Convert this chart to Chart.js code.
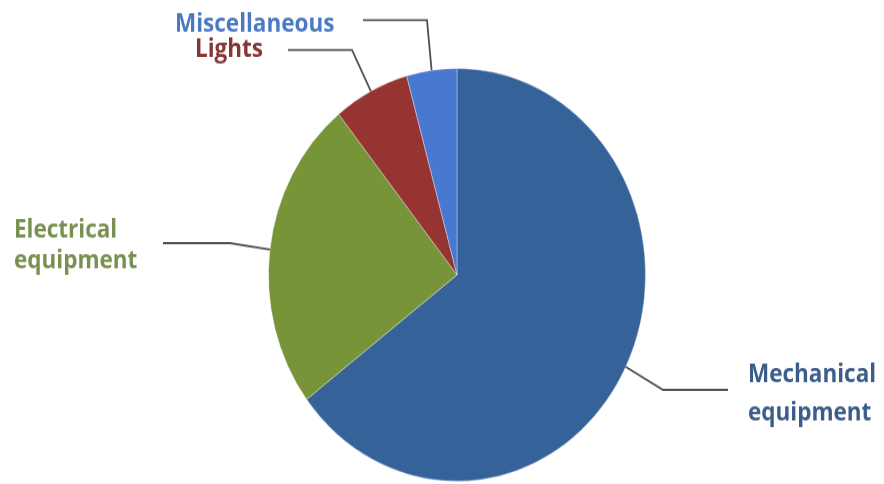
<!DOCTYPE html>
<html>
<head>
<meta charset="utf-8">
<script src="https://cdn.jsdelivr.net/npm/chart.js@4/dist/chart.umd.min.js"></script>
<style>
  html, body { margin: 0; padding: 0; background: #fff; }
  body { width: 884px; height: 484px; overflow: hidden; }
  /* the pie is drawn slightly taller than wide */
  #wrap { width: 884px; height: 442px; transform: scaleY(1.095); transform-origin: 0 0; }
</style>
</head>
<body>
<div id="wrap"><canvas id="pie" width="884" height="442"></canvas></div>
<script>
const categories = ['Mechanical equipment', 'Electrical equipment', 'Lights', 'Miscellaneous']
const shares = [64.7, 24.5, 6.5, 4.3]
const sliceColors = ['#36629a', '#779439', '#963432', '#4878d0']
const textColors = ['#3b5d89', '#789150', '#843634', '#4a79c4']

// label text lines, where the text block starts and where the leader line bends
const labelLayout = [
  { lines: ['Mechanical', 'equipment'], x: 748, y: 349, lineH: 34.5, from: [728, 356], bend: [663, 356] },
  { lines: ['Electrical', 'equipment'], x: 14, y: 217, lineH: 27.5, from: [163, 222], bend: [230, 222] },
  { lines: ['Lights'], x: 195, y: 52, lineH: 0, from: [288, 45.7], bend: [352, 45.7] },
  { lines: ['Miscellaneous'], x: 175, y: 28.5, lineH: 0, from: [363, 18.3], bend: [427, 18.3] }
]

const leaderLabels = {
  id: 'leaderLabels',
  afterDatasetsDraw(chart) {
    const ctx = chart.ctx
    const arcs = chart.getDatasetMeta(0).data
    ctx.save()
    arcs.forEach((arc, i) => {
      const p = arc.getProps(['x', 'y', 'startAngle', 'endAngle', 'outerRadius'], true)
      const mid = (p.startAngle + p.endAngle) / 2
      const ax = p.x + Math.cos(mid) * p.outerRadius
      const ay = p.y + Math.sin(mid) * p.outerRadius
      const l = labelLayout[i]
      ctx.strokeStyle = '#505050'
      ctx.lineWidth = 1.8
      ctx.beginPath()
      ctx.moveTo(l.from[0], l.from[1])
      ctx.lineTo(l.bend[0], l.bend[1])
      ctx.lineTo(ax, ay)
      ctx.stroke()
      ctx.fillStyle = textColors[i]
      ctx.font = 'bold 22.5px "Open Sans", "Noto Sans", sans-serif'
      ctx.textAlign = 'left'
      ctx.textBaseline = 'alphabetic'
      l.lines.forEach((t, k) => ctx.fillText(t, l.x, l.y + k * l.lineH))
    })
    ctx.restore()
  }
}

new Chart(document.getElementById('pie'), {
  type: 'pie',
  data: {
    labels: categories,
    datasets: [{
      data: shares,
      backgroundColor: sliceColors,
      borderColor: 'rgba(255,255,255,0.35)',
      borderWidth: 1
    }]
  },
  options: {
    responsive: false,
    animation: false,
    layout: { padding: { left: 268, right: 238, top: 62, bottom: 2 } },
    plugins: {
      legend: { display: false },
      tooltip: { enabled: false }
    }
  },
  plugins: [leaderLabels]
})
</script>
</body>
</html>
